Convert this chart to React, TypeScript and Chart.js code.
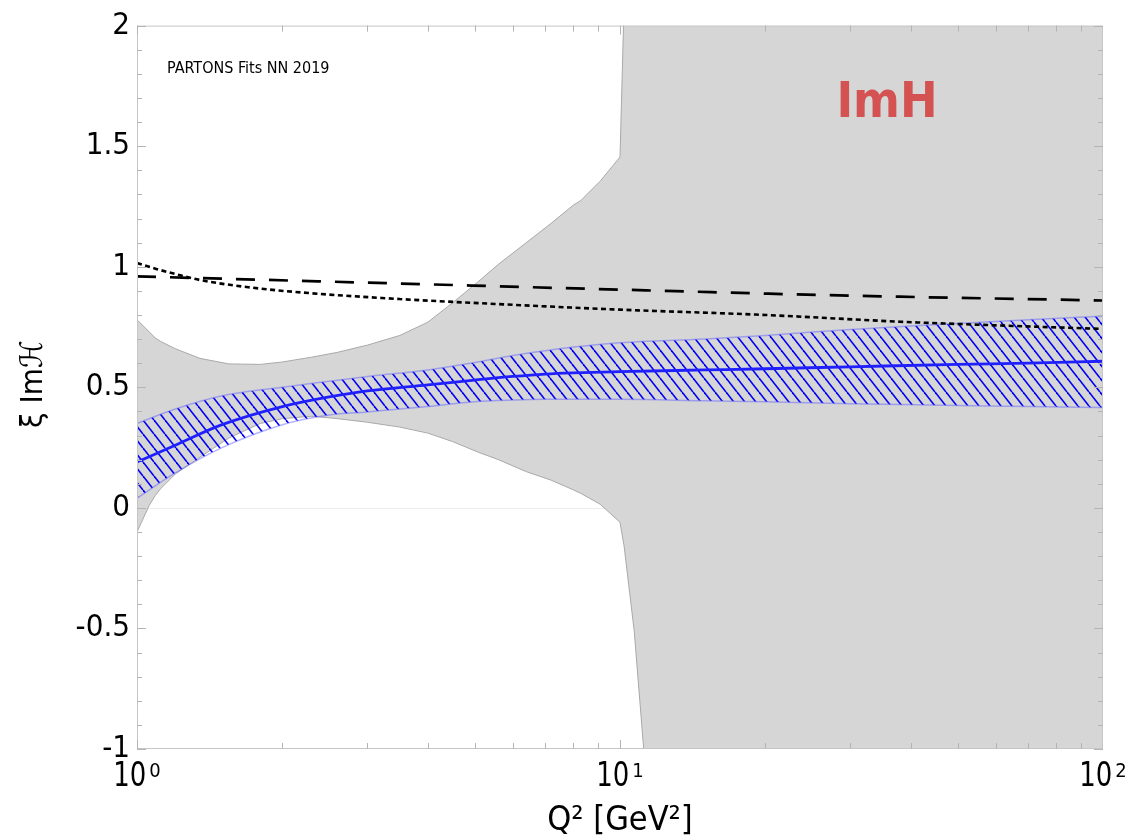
import React, { useEffect, useRef } from 'react';
import { Chart, registerables } from 'chart.js';

Chart.register(...registerables);

// Gray (large uncertainty) envelope
const X_GRAY = [1, 1.06, 1.09, 1.12, 1.2, 1.35, 1.55, 1.8, 2.0, 2.3, 2.6, 3.0, 3.5, 4.0, 4.5, 5.1, 5.6, 6.4, 7.2, 8.0, 8.3, 9.1, 10, 10.2, 10.7, 11.3, 100];
const GRAY_UPPER = [0.78, 0.73, 0.705, 0.69, 0.66, 0.62, 0.597, 0.595, 0.605, 0.625, 0.645, 0.675, 0.715, 0.77, 0.85, 0.94, 1.01, 1.1, 1.18, 1.255, 1.275, 1.355, 1.455, 2.1, 2.1, 2.1, 2.1];
const GRAY_LOWER = [-0.1, 0.01, 0.05, 0.08, 0.14, 0.21, 0.29, 0.35, 0.37, 0.38, 0.37, 0.355, 0.335, 0.31, 0.275, 0.23, 0.2, 0.15, 0.115, 0.075, 0.06, 0.015, -0.06, -0.16, -0.51, -1.1, -1.1];

// Blue fit with hatched band
const X_FIT = [1, 1.2, 1.5, 2, 2.5, 3, 4, 5, 6, 7, 8, 10, 15, 20, 30, 50, 70, 100];
const FIT_CENTRAL = [0.19, 0.26, 0.345, 0.42, 0.46, 0.485, 0.51, 0.53, 0.545, 0.555, 0.56, 0.565, 0.572, 0.577, 0.585, 0.595, 0.6, 0.608];
const FIT_UPPER = [0.35, 0.41, 0.465, 0.5, 0.525, 0.545, 0.572, 0.603, 0.632, 0.652, 0.667, 0.685, 0.7, 0.715, 0.74, 0.765, 0.78, 0.795];
const FIT_LOWER = [0.04, 0.145, 0.25, 0.345, 0.385, 0.398, 0.42, 0.44, 0.447, 0.45, 0.45, 0.45, 0.444, 0.44, 0.432, 0.425, 0.42, 0.416];

// Black reference curves
const X_DASHED = [1, 3, 10, 30, 100];
const DASHED = [0.96, 0.934, 0.905, 0.88, 0.86];
const X_DOTTED = [1, 1.1, 1.2, 1.35, 1.7, 2.2, 3.5, 5.6, 10, 20, 38, 60, 100];
const DOTTED = [1.015, 0.99, 0.97, 0.945, 0.915, 0.893, 0.866, 0.845, 0.822, 0.8, 0.772, 0.757, 0.742];

// Axes
const Y_TICKS = [-1, -0.5, 0, 0.5, 1, 1.5, 2];
const Y_TICK_LABELS = ['-1', '-0.5', '0', '0.5', '1', '1.5', '2'];
const X_TICKS = [1, 10, 100];
const X_TICK_EXP = ['0', '1', '2'];
const X_TITLE = 'Q² [GeV²]';
const Y_TITLE = 'ξ Imℋ';
const NOTE = 'PARTONS Fits NN 2019';
const LABEL = 'ImH';

const F = '"DejaVu Sans Condensed", "DejaVu Sans", sans-serif';

const pts = (xs: number[], ys: number[]) => xs.map((x, i) => ({ x, y: ys[i] }));

export default function App() {
  const ref = useRef<HTMLCanvasElement>(null);

  useEffect(() => {
    const canvas = ref.current!;
    const tile = document.createElement('canvas');
    tile.width = 11;
    tile.height = 14;
    const t = tile.getContext('2d')!;
    t.strokeStyle = '#0000f5';
    t.lineWidth = 1.6;
    for (const dx of [-11, 0, 11]) {
      t.beginPath();
      t.moveTo(dx, 0);
      t.lineTo(dx + 11, 14);
      t.stroke();
    }
    const pattern = canvas.getContext('2d')!.createPattern(tile, 'repeat');

    const framePlugin = {
      id: 'frameAndText',
      beforeDatasetsDraw(chart: any) {
        const ctx = chart.ctx;
        const { left, right } = chart.chartArea;
        const y0 = chart.scales.y.getPixelForValue(0);
        ctx.save();
        ctx.strokeStyle = '#ededed';
        ctx.lineWidth = 1;
        ctx.beginPath();
        ctx.moveTo(left, Math.round(y0) + 0.5);
        ctx.lineTo(right, Math.round(y0) + 0.5);
        ctx.stroke();
        ctx.restore();
      },
      afterDraw(chart: any) {
        const ctx = chart.ctx;
        const { left, right, top, bottom } = chart.chartArea;
        const xs = chart.scales.x;
        const ys = chart.scales.y;
        ctx.save();
        // frame
        ctx.strokeStyle = '#c6c6c6';
        ctx.lineWidth = 1;
        ctx.strokeRect(left + 0.5, top + 0.5, right - left - 1, bottom - top - 1);
        // y ticks
        ctx.strokeStyle = '#b4b4b4';
        ctx.beginPath();
        for (let k = -10; k <= 20; k++) {
          const y = Math.round(ys.getPixelForValue(k / 10)) + 0.5;
          const len = k % 5 === 0 ? 9 : 5;
          ctx.moveTo(left, y);
          ctx.lineTo(left + len, y);
          ctx.moveTo(right, y);
          ctx.lineTo(right - len, y);
        }
        // x ticks
        for (const dec of [1, 10]) {
          for (let m = 1; m <= 9; m++) {
            const x = Math.round(xs.getPixelForValue(dec * m)) + 0.5;
            const len = m === 1 ? 9 : 6;
            ctx.moveTo(x, bottom);
            ctx.lineTo(x, bottom - len);
            ctx.moveTo(x, top);
            ctx.lineTo(x, top + len);
          }
        }
        ctx.stroke();

        // x tick labels 10^n
        ctx.fillStyle = '#000';
        ctx.textBaseline = 'alphabetic';
        ctx.textAlign = 'left';
        X_TICKS.forEach((v, i) => {
          const px = xs.getPixelForValue(v);
          ctx.font = `34px ${F}`;
          const bw = ctx.measureText('10').width * 0.85;
          ctx.font = `20px ${F}`;
          const sw = ctx.measureText(X_TICK_EXP[i]).width;
          const gap = 3;
          const x0 = px - (bw + gap + sw) / 2;
          ctx.save();
          ctx.translate(x0, bottom + 37);
          ctx.scale(0.85, 1);
          ctx.font = `34px ${F}`;
          ctx.fillText('10', 0, 0);
          ctx.restore();
          ctx.font = `20px ${F}`;
          ctx.fillText(X_TICK_EXP[i], x0 + bw + gap, bottom + 28);
        });

        // axis titles
        ctx.textAlign = 'center';
        ctx.font = `34px ${F}`;
        ctx.fillText(X_TITLE, (left + right) / 2, 830);
        ctx.save();
        ctx.translate(42, (top + bottom) / 2 - 3);
        ctx.rotate(-Math.PI / 2);
        ctx.font = `31px ${F}`;
        ctx.fillText(Y_TITLE, 0, 0);
        ctx.restore();

        // annotations
        ctx.textAlign = 'left';
        ctx.font = `16px ${F}`;
        ctx.fillText(NOTE, left + 30, top + 47);
        ctx.textAlign = 'center';
        ctx.fillStyle = '#d55252';
        ctx.font = `bold 50px ${F}`;
        ctx.fillText(LABEL, 887, 117);
        ctx.restore();
      },
    };

    const chart = new Chart(canvas, {
      type: 'line',
      data: {
        datasets: [
          {
            data: pts(X_GRAY, GRAY_UPPER),
            borderColor: '#a9a9a9',
            borderWidth: 1,
            backgroundColor: '#d6d6d6',
            fill: '+1',
            pointRadius: 0,
            tension: 0,
            order: 11,
          },
          {
            data: pts(X_GRAY, GRAY_LOWER),
            borderColor: '#a9a9a9',
            borderWidth: 1,
            fill: false,
            pointRadius: 0,
            tension: 0,
            order: 10,
          },
          {
            data: pts(X_FIT, FIT_UPPER),
            borderColor: 'rgba(90,90,255,0.45)',
            borderWidth: 1.5,
            backgroundColor: pattern as any,
            fill: '+1',
            pointRadius: 0,
            cubicInterpolationMode: 'monotone',
            order: 6,
          },
          {
            data: pts(X_FIT, FIT_LOWER),
            borderColor: 'rgba(90,90,255,0.45)',
            borderWidth: 1.5,
            fill: false,
            pointRadius: 0,
            cubicInterpolationMode: 'monotone',
            order: 5,
          },
          {
            data: pts(X_FIT, FIT_CENTRAL),
            borderColor: '#2020ff',
            borderWidth: 2.8,
            fill: false,
            pointRadius: 0,
            cubicInterpolationMode: 'monotone',
            order: 3,
          },
          {
            data: pts(X_DASHED, DASHED),
            borderColor: '#000',
            borderWidth: 2.7,
            borderDash: [19, 14],
            fill: false,
            pointRadius: 0,
            cubicInterpolationMode: 'monotone',
            order: 2,
          },
          {
            data: pts(X_DOTTED, DOTTED),
            borderColor: '#000',
            borderWidth: 2.6,
            borderDash: [5, 3.5],
            fill: false,
            pointRadius: 0,
            cubicInterpolationMode: 'monotone',
            order: 1,
          },
        ],
      },
      options: {
        responsive: false,
        devicePixelRatio: 1,
        animation: false,
        layout: { padding: { top: 24, right: 27, left: 0, bottom: 0 } },
        plugins: { legend: { display: false }, tooltip: { enabled: false } },
        scales: {
          x: {
            type: 'logarithmic',
            min: 1,
            max: 100,
            grid: { display: false, drawTicks: false },
            border: { display: false },
            ticks: { display: false },
            afterFit: (s: any) => {
              s.height = 90;
            },
          },
          y: {
            type: 'linear',
            min: -1,
            max: 2,
            grid: { display: false, drawTicks: false },
            border: { display: false },
            afterBuildTicks: (s: any) => {
              s.ticks = Y_TICKS.map((v) => ({ value: v }));
            },
            ticks: {
              padding: 7,
              color: '#000',
              font: { family: F, size: 31 },
              callback: (v: any) => {
                const i = Y_TICKS.indexOf(Number(v));
                return i >= 0 ? Y_TICK_LABELS[i] : '';
              },
            },
            afterFit: (s: any) => {
              s.width = 137;
            },
          },
        },
      },
      plugins: [framePlugin],
    } as any);

    return () => chart.destroy();
  }, []);

  return (
    <div style={{ position: 'absolute', left: 0, top: 0, width: 1130, height: 839 }}>
      <canvas ref={ref} width={1130} height={839} style={{ display: 'block' }} />
    </div>
  );
}
